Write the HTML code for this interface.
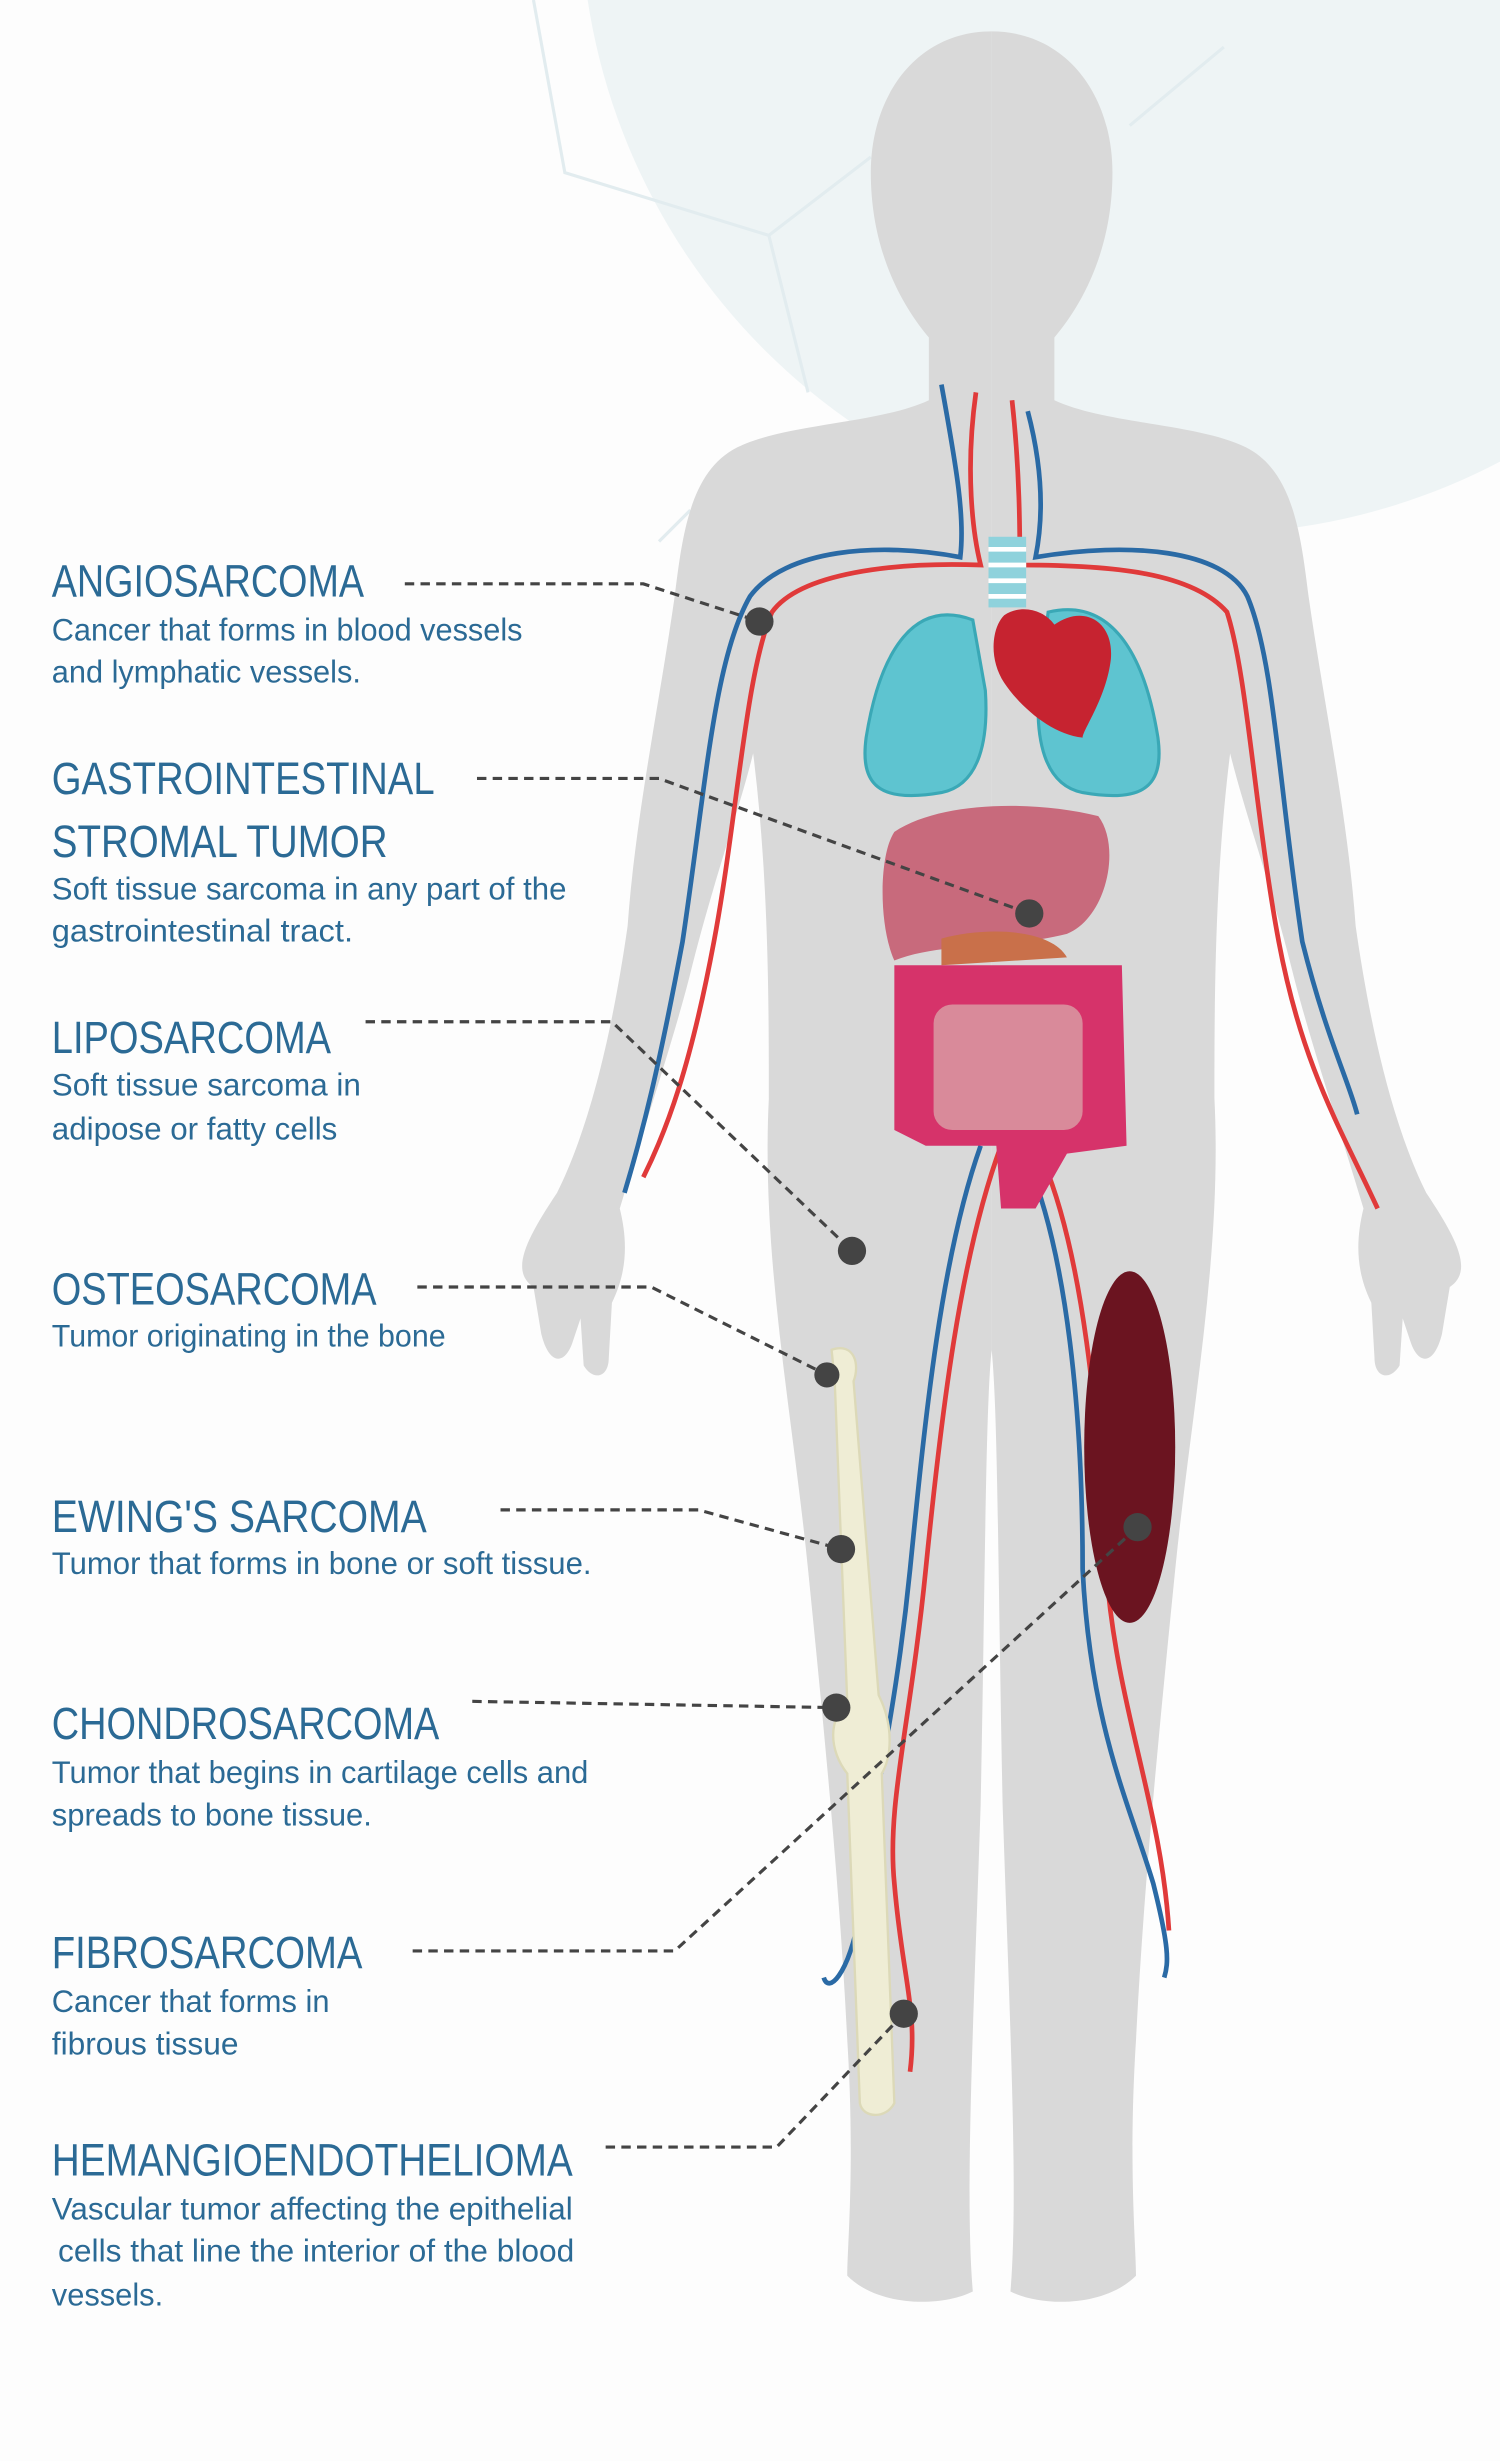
<!DOCTYPE html>
<html><head><meta charset="utf-8"><style>
html,body{margin:0;padding:0;background:#fff;}
svg{display:block;}
.t{font-family:"Liberation Sans",sans-serif;font-size:29px;fill:#2b6a95;}
.d{font-family:"Liberation Sans",sans-serif;font-size:20px;fill:#2b6a95;}
</style></head><body>
<svg width="1500" height="2461" viewBox="0 0 956 1568" preserveAspectRatio="none" xmlns="http://www.w3.org/2000/svg">
<rect width="956" height="1568" fill="#fdfdfd"/>
<circle cx="770" cy="-60" r="400" fill="#eef4f5"/>
<g stroke="#e2ecef" stroke-width="2" fill="none">
<path d="M340,0 L360,110 L490,150 L555,100"/><path d="M490,150 L515,250"/><path d="M720,80 L780,30"/><path d="M420,345 L440,325"/>
</g>
<defs>
<path id="half" d="M632,20 C585,20 555,60 555,110 C555,160 575,195 592,215 L592,255 C560,270 500,270 470,285 C440,300 435,340 430,380 C420,450 405,520 400,590 C390,660 375,720 355,760 C335,790 325,810 340,820 L345,850 C350,870 360,870 365,855 L370,840 L372,870 C378,880 388,878 388,865 L390,830 C400,810 400,790 395,770 C410,720 430,660 440,620 C455,560 470,520 480,480 C490,560 490,640 490,700 C485,800 505,900 515,1000 C525,1100 535,1200 540,1300 C545,1380 540,1430 540,1450 C560,1470 600,1470 620,1460 C615,1400 620,1300 625,1150 C628,1000 628,900 632,860 Z"/>
</defs>
<use href="#half" fill="#d9d9d9"/>
<use href="#half" fill="#d9d9d9" transform="translate(1264,0) scale(-1,1)"/>
<!-- vessels -->
<g fill="none" stroke-width="3">
<path d="M600,245 C610,300 615,330 612,355 C560,345 500,350 478,380 C455,420 450,500 435,600 C420,680 410,720 398,760" stroke="#2a6aa5"/>
<path d="M622,250 C615,300 620,340 625,360 C570,358 510,365 492,390 C475,430 470,520 455,600 C440,680 425,720 410,750" stroke="#e03a3a"/>
<path d="M655,262 C665,300 665,330 660,355 C720,345 780,350 795,380 C812,420 815,500 830,600 C845,660 860,690 865,710" stroke="#2a6aa5"/>
<path d="M645,255 C650,300 650,340 650,360 C710,360 760,365 782,390 C795,430 800,520 815,600 C830,680 855,720 878,770" stroke="#e03a3a"/>
<path d="M625,730 C600,800 590,900 580,1000 C570,1100 555,1150 548,1220 C540,1260 528,1270 525,1260" stroke="#2a6aa5"/>
<path d="M638,730 C612,800 600,900 590,1000 C580,1100 565,1150 570,1200 C575,1260 585,1280 580,1320" stroke="#e03a3a"/>
<path d="M655,740 C680,800 690,900 690,1000 C695,1100 720,1150 735,1200 C745,1240 745,1250 742,1260" stroke="#2a6aa5"/>
<path d="M665,740 C690,800 700,900 705,1000 C712,1090 740,1150 745,1230" stroke="#e03a3a"/>
</g>
<!-- organs -->
<rect x="630" y="342" width="24" height="45" fill="#8fd2dc"/>
<g stroke="#fff" stroke-width="3"><line x1="630" y1="350" x2="654" y2="350"/><line x1="630" y1="360" x2="654" y2="360"/><line x1="630" y1="370" x2="654" y2="370"/><line x1="630" y1="380" x2="654" y2="380"/></g>
<path d="M620,395 C580,380 560,420 552,470 C548,500 560,512 600,505 C625,500 630,470 628,440 Z" fill="#5ec4d0" stroke="#3aa8b6" stroke-width="2"/>
<path d="M668,390 C710,380 730,420 738,470 C742,500 730,512 690,505 C665,500 660,470 662,440 Z" fill="#5ec4d0" stroke="#3aa8b6" stroke-width="2"/>
<path d="M640,392 C650,385 665,388 672,398 C690,385 710,395 708,420 C705,445 690,465 690,470 C670,468 650,450 640,435 C630,420 632,400 640,392 Z" fill="#c62330"/>
<path d="M570,530 C600,510 660,510 700,520 C715,540 705,585 680,595 C640,605 600,600 570,612 C560,590 560,545 570,530 Z" fill="#c86a7c"/>
<path d="M600,598 C630,590 670,592 680,610 L600,615 Z" fill="#c9704a"/>
<path d="M570,615 L715,615 L718,730 L680,735 L660,770 L638,770 L635,730 L590,730 L570,720 Z" fill="#d6336a"/>
<rect x="595" y="640" width="95" height="80" rx="12" fill="#d98a9a"/>
<ellipse cx="720" cy="922" rx="29" ry="112" fill="#6b1420"/>
<path d="M530,860 C545,855 548,870 544,880 L560,1080 C570,1100 568,1120 562,1130 L570,1340 C565,1350 550,1350 548,1340 L540,1130 C528,1115 528,1095 540,1085 L532,880 Z" fill="#efedd5" stroke="#dcd9b8" stroke-width="1.5"/>
<!-- leader lines -->
<g fill="none" stroke="#444" stroke-width="2" stroke-dasharray="6,4">
<path d="M258,372 L410,372 L484,396"/>
<path d="M304,496 L420,496 L656,582"/>
<path d="M233,651 L390,651 L543,797"/>
<path d="M266,820 L415,820 L527,876"/>
<path d="M319,962 L445,962 L536,987"/>
<path d="M301,1084 L533,1088"/>
<path d="M263,1243 L430,1243 L725,973"/>
<path d="M386,1368 L495,1368 L576,1283"/>
</g>
<g fill="#444">
<circle cx="484" cy="396" r="9"/><circle cx="656" cy="582" r="9"/><circle cx="543" cy="797" r="9"/><circle cx="527" cy="876" r="8"/><circle cx="536" cy="987" r="9"/><circle cx="533" cy="1088" r="9"/><circle cx="725" cy="973" r="9"/><circle cx="576" cy="1283" r="9"/>
</g>
<!-- text -->
<text class="t" x="33" y="380" textLength="199" lengthAdjust="spacingAndGlyphs">ANGIOSARCOMA</text>
<text class="d" x="33" y="408" textLength="300" lengthAdjust="spacingAndGlyphs">Cancer that forms in blood vessels</text>
<text class="d" x="33" y="435" textLength="197" lengthAdjust="spacingAndGlyphs">and lymphatic vessels.</text>
<text class="t" x="33" y="506" textLength="244" lengthAdjust="spacingAndGlyphs">GASTROINTESTINAL</text>
<text class="t" x="33" y="546" textLength="214" lengthAdjust="spacingAndGlyphs">STROMAL TUMOR</text>
<text class="d" x="33" y="573" textLength="328" lengthAdjust="spacingAndGlyphs">Soft tissue sarcoma in any part of the</text>
<text class="d" x="33" y="600" textLength="192" lengthAdjust="spacingAndGlyphs">gastrointestinal tract.</text>
<text class="t" x="33" y="671" textLength="178" lengthAdjust="spacingAndGlyphs">LIPOSARCOMA</text>
<text class="d" x="33" y="698" textLength="197" lengthAdjust="spacingAndGlyphs">Soft tissue sarcoma in</text>
<text class="d" x="33" y="726" textLength="182" lengthAdjust="spacingAndGlyphs">adipose or fatty cells</text>
<text class="t" x="33" y="831" textLength="207" lengthAdjust="spacingAndGlyphs">OSTEOSARCOMA</text>
<text class="d" x="33" y="858" textLength="251" lengthAdjust="spacingAndGlyphs">Tumor originating in the bone</text>
<text class="t" x="33" y="976" textLength="239" lengthAdjust="spacingAndGlyphs">EWING'S SARCOMA</text>
<text class="d" x="33" y="1003" textLength="344" lengthAdjust="spacingAndGlyphs">Tumor that forms in bone or soft tissue.</text>
<text class="t" x="33" y="1108" textLength="247" lengthAdjust="spacingAndGlyphs">CHONDROSARCOMA</text>
<text class="d" x="33" y="1136" textLength="342" lengthAdjust="spacingAndGlyphs">Tumor that begins in cartilage cells and</text>
<text class="d" x="33" y="1163" textLength="204" lengthAdjust="spacingAndGlyphs">spreads to bone tissue.</text>
<text class="t" x="33" y="1254" textLength="198" lengthAdjust="spacingAndGlyphs">FIBROSARCOMA</text>
<text class="d" x="33" y="1282" textLength="177" lengthAdjust="spacingAndGlyphs">Cancer that forms in</text>
<text class="d" x="33" y="1309" textLength="119" lengthAdjust="spacingAndGlyphs">fibrous tissue</text>
<text class="t" x="33" y="1386" textLength="332" lengthAdjust="spacingAndGlyphs">HEMANGIOENDOTHELIOMA</text>
<text class="d" x="33" y="1414" textLength="332" lengthAdjust="spacingAndGlyphs">Vascular tumor affecting the epithelial</text>
<text class="d" x="37" y="1441" textLength="329" lengthAdjust="spacingAndGlyphs">cells that line the interior of the blood</text>
<text class="d" x="33" y="1469" textLength="71" lengthAdjust="spacingAndGlyphs">vessels.</text>
</svg>
</body></html>
